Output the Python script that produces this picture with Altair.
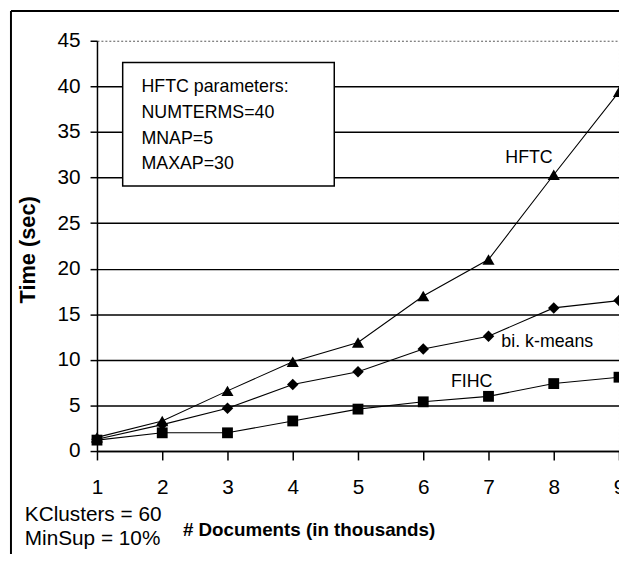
import altair as alt
import pandas as pd

# ---- data ----
docs = [1, 2, 3, 4, 5, 6, 7, 8, 9]
hftc = [1.5, 3.3, 6.6, 9.8, 11.9, 17.0, 21.0, 30.3, 39.4]
bikmeans = [1.3, 2.9, 4.7, 7.3, 8.7, 11.2, 12.6, 15.7, 16.5]
fihc = [1.2, 2.0, 2.0, 3.3, 4.6, 5.4, 6.0, 7.4, 8.1]
series_names = ["HFTC", "bi. k-means", "FIHC"]
series_shapes = ["triangle-up", "diamond", "square"]
y_ticks = [0, 5, 10, 15, 20, 25, 30, 35, 40, 45]

box_text = "HFTC parameters:\nNUMTERMS=40\nMNAP=5\nMAXAP=30"
note_text = "KClusters = 60\nMinSup = 10%"

rows = []
for name, vals in zip(series_names, [hftc, bikmeans, fihc]):
    for d, v in zip(docs, vals):
        rows.append({"series": name, "docs": d, "time": v})
df = pd.DataFrame(rows)

FONT = "Liberation Sans"

x_enc = alt.X(
    "docs:Q",
    scale=alt.Scale(domain=[1, 9], nice=False, zero=False),
    axis=alt.Axis(
        values=docs, format="d", tickSize=9, tickColor="black", tickWidth=1.5,
        labelPadding=17, labelFontSize=21, labelColor="black", labelFont=FONT,
        labelFlush=False,
        domainColor="black", domainWidth=1.5,
        grid=True, gridColor="#555", gridDash=[2, 2], gridWidth=1,
        gridOpacity={"condition": {"test": "datum.value === 9", "value": 1}, "value": 0},
        title="# Documents (in thousands)", titleFont=FONT, titleFontSize=19,
        titleFontWeight="bold", titleColor="black",
        titleX=214, titleY=85, titleAlign="center", titleBaseline="alphabetic",
    ),
)
y_enc = alt.Y(
    "time:Q",
    scale=alt.Scale(domain=[0, 45], nice=False),
    axis=alt.Axis(
        values=y_ticks, tickSize=7, tickColor="black", tickWidth=1.5,
        labelPadding=10, labelFontSize=21, labelColor="black", labelFont=FONT,
        labelFlush=False,
        domainColor="black", domainWidth=1.5,
        grid=True,
        gridColor={"condition": {"test": "datum.value === 45", "value": "#555"}, "value": "black"},
        gridDash={"condition": {"test": "datum.value === 45", "value": [2, 2]}, "value": []},
        gridWidth={"condition": {"test": "datum.value === 45", "value": 1}, "value": 1.5},
        title="Time (sec)", titleFont=FONT, titleFontSize=22, titleFontWeight="bold",
        titleColor="black", titleAngle=270, titleX=-63, titleY=211,
        titleAlign="center", titleBaseline="alphabetic",
    ),
)

base = alt.Chart(df)

lines = base.mark_line(color="black", strokeWidth=1.1).encode(
    x=x_enc, y=y_enc, detail="series:N"
)
points = base.mark_point(filled=True, color="black", opacity=1).encode(
    x="docs:Q", y="time:Q",
    shape=alt.Shape("series:N", scale=alt.Scale(domain=series_names, range=series_shapes),
                    legend=None),
    size=alt.Size("series:N", scale=alt.Scale(domain=series_names, range=[150, 120, 100]),
                  legend=None),
)

one = alt.Data(values=[{"a": 1}])

box = alt.Chart(one).mark_rect(fill="white", stroke="black", strokeWidth=1.5).encode(
    x=alt.value(26), x2=alt.value(240), y=alt.value(22), y2=alt.value(147)
)
box_lbl = alt.Chart(pd.DataFrame({"t": [box_text]})).mark_text(
    align="left", baseline="alphabetic", fontSize=18, font=FONT, color="black",
    lineBreak="\n", lineHeight=26,
).encode(text="t:N", x=alt.value(45), y=alt.value(52))

note = alt.Chart(pd.DataFrame({"t": [note_text]})).mark_text(
    align="left", baseline="alphabetic", fontSize=21, font=FONT, color="black",
    lineBreak="\n", lineHeight=24,
).encode(text="t:N", x=alt.value(-73), y=alt.value(486))

def series_label(txt, px, py):
    return alt.Chart(pd.DataFrame({"t": [txt]})).mark_text(
        align="left", baseline="alphabetic", fontSize=18, font=FONT, color="black"
    ).encode(text="t:N", x=alt.value(px), y=alt.value(py))

lbl_hftc = series_label(series_names[0], 413, 124)
lbl_bik = series_label(series_names[1], 409, 310)
lbl_fihc = series_label(series_names[2], 358, 350)

frame_left = alt.Chart(one).mark_rule(color="black", strokeWidth=2).encode(
    x=alt.value(-87), y=alt.value(-30), y2=alt.value(520)
)
frame_top = alt.Chart(one).mark_rule(color="black", strokeWidth=2).encode(
    x=alt.value(-87), x2=alt.value(530), y=alt.value(-30)
)

chart = alt.layer(
    lines, box, box_lbl, points, lbl_hftc, lbl_bik, lbl_fihc, note, frame_left, frame_top
).properties(
    width=528, height=415,
    autosize=alt.AutoSizeParams(type="none"),
    padding={"left": 90, "top": 30, "right": 0, "bottom": 101},
    background="white",
).configure_view(stroke=None)

chart.save("out.html", embed_options={"renderer": "svg", "actions": False})
